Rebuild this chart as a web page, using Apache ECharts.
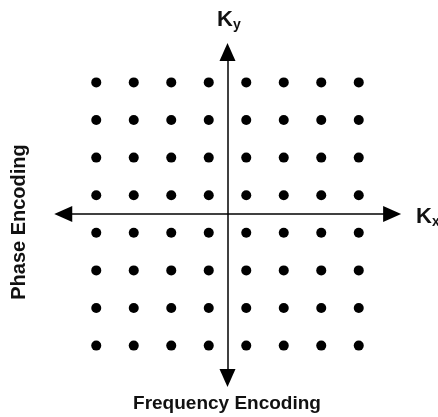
<!DOCTYPE html>
<html>
<head>
<meta charset="utf-8">
<script src="https://cdn.jsdelivr.net/npm/echarts@6/dist/echarts.min.js"></script>
<style>
  html, body { margin: 0; padding: 0; background: #fff; }
  #chart { width: 438px; height: 417px; }
</style>
</head>
<body>
<div id="chart"></div>
<script>
// k-space sample positions (grid units)
var kxSamples = [-3.5, -2.5, -1.5, -0.5, 0.5, 1.5, 2.5, 3.5];
var kySamples = [3.5, 2.5, 1.5, 0.5, -0.5, -1.5, -2.5, -3.5];
// arrow end points of the two axes
var kxAxisEnds = [-4.38, 4.39];
var kyAxisEnds = [-4.36, 4.31];

var points = [];
kySamples.forEach(function (ky) {
  kxSamples.forEach(function (kx) {
    points.push([kx, ky]);
  });
});

var chart = echarts.init(document.getElementById("chart"));
var font = "'Liberation Sans', Arial, sans-serif";

var kRich = {
  k: { fontFamily: font, fontWeight: "bold", fontSize: 22, color: "#111" },
  s: { fontFamily: font, fontWeight: "bold", fontSize: 14, color: "#111", padding: [10, 0, 0, 0] }
};

var option = {
  animation: false,
  grid: { left: 40, top: 26, width: 375, height: 376 },
  xAxis: { type: "value", min: -5, max: 5, show: false },
  yAxis: { type: "value", min: -5, max: 5, show: false },
  title: [
    { text: "{k|K}{s|y}", left: 212, top: 3, textStyle: { rich: kRich } },
    { text: "{k|K}{s|x}", left: 411, top: 200, textStyle: { rich: kRich } }
  ],
  graphic: [
    {
      type: "text",
      x: 227,
      y: 394,
      style: {
        text: "Frequency Encoding",
        font: "bold 19px " + font,
        fill: "#111",
        textAlign: "center",
        textVerticalAlign: "top"
      }
    },
    {
      type: "text",
      x: 19,
      y: 222,
      rotation: Math.PI / 2,
      style: {
        text: "Phase Encoding",
        font: "bold 20px " + font,
        fill: "#111",
        textAlign: "center",
        textVerticalAlign: "middle"
      }
    }
  ],
  series: [
    {
      type: "scatter",
      symbol: "circle",
      symbolSize: 10,
      itemStyle: { color: "#000", opacity: 1 },
      data: points,
      markLine: {
        silent: true,
        symbol: ["triangle", "triangle"],
        symbolSize: [16, 18],
        label: { show: false },
        lineStyle: { color: "#000", width: 1.5, type: "solid", opacity: 1 },
        data: [
          [{ coord: [kxAxisEnds[0], 0] }, { coord: [kxAxisEnds[1], 0] }],
          [{ coord: [0, kyAxisEnds[0]] }, { coord: [0, kyAxisEnds[1]] }]
        ]
      }
    }
  ]
};

chart.setOption(option);
</script>
</body>
</html>
